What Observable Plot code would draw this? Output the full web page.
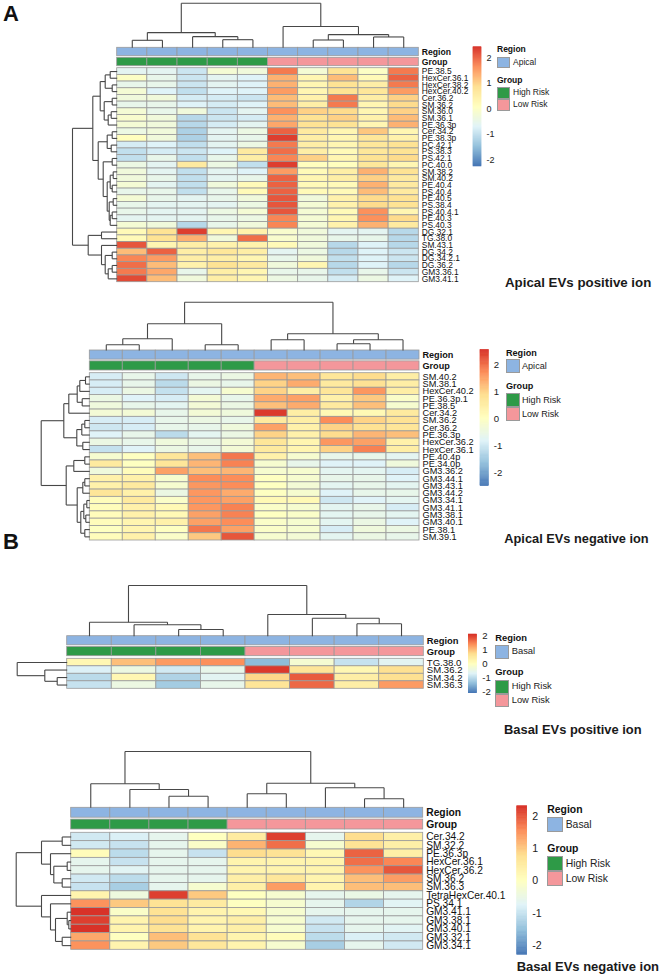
<!DOCTYPE html>
<html><head><meta charset="utf-8">
<script src="https://cdn.jsdelivr.net/npm/d3@7"></script>
<script src="https://cdn.jsdelivr.net/npm/@observablehq/plot@0.6"></script>
<style>
body{margin:0;background:#fff;font-family:"Liberation Sans",Arial,sans-serif}
#page{position:relative;width:660px;height:980px;overflow:hidden;background:#fff}
#page svg{position:absolute;left:0;top:0}
.t{position:absolute;white-space:nowrap;color:#111}
.sw{position:absolute;box-sizing:border-box;border:1px solid #9a9a9a}
</style></head><body><div id="page"></div>
<script>
// ---------------- DATA ----------------
const legendTicks = [-2, -1, 0, 1, 2];

// Panel A – Apical EVs positive ion
const a1Rows = ["PE.38.5","HexCer.36.1","HexCer.38.2","HexCer.40.2","Cer.36.2","SM.36.2","SM.36.0","SM.36.1","PE.36.3p","Cer.34.2","PE.38.3p","PC.42.1","PS.38.3","PS.42.1","PC.40.0","SM.38.2","SM.40.2","PE.40.4","PS.40.4","PE.40.5","PS.38.4","PS.40.4.1","PE.40.3","PS.40.3","DG.32.1","TG.38.0","SM.43.1","DG.34.2","DG.34.2.1","DG.36.2","GM3.36.1","GM3.41.1"];
const a1Groups = ["High Risk","High Risk","High Risk","High Risk","High Risk","Low Risk","Low Risk","Low Risk","Low Risk","Low Risk"];
const a1Region = "Apical";
const a1Range = [-2.25, 2.42];
const a1Values = [
 [-0.6,-0.6,-0.9,-0.2,-0.3,1.8,-0.2,0.8,0.0,1.8],
 [0.0,-0.5,-0.9,-0.6,-0.7,1.3,0.3,1.2,0.2,2.0],
 [-0.5,-0.5,-0.9,-0.6,-0.7,1.3,0.3,0.8,0.5,1.8],
 [-0.2,-0.7,-1.0,-0.7,-0.7,1.5,0.3,0.8,0.7,1.5],
 [-0.3,-0.3,-0.8,-0.8,-0.9,1.2,0.4,1.8,0.5,1.0],
 [-0.5,-0.5,-0.7,-0.8,-0.7,1.2,0.5,1.8,0.3,0.9],
 [-0.2,-0.5,-0.3,-0.9,-0.6,1.6,1.0,0.9,0.3,1.0],
 [-0.1,-0.3,-1.1,-0.9,-0.8,1.3,0.8,1.0,0.4,1.2],
 [-0.2,-0.3,-1.1,-0.8,-0.6,1.4,0.8,0.8,0.3,1.3],
 [-0.4,-0.3,-1.2,-0.6,-0.4,2.0,0.6,0.3,1.1,0.3],
 [0.1,-0.3,-1.2,-0.6,-0.5,2.3,0.5,0.3,0.7,0.4],
 [-0.8,-0.7,-1.0,-0.6,-0.4,1.8,0.5,0.3,0.7,0.8],
 [-1.0,-0.8,-0.9,-0.7,0.6,1.9,0.5,0.2,0.7,0.8],
 [-1.0,-0.5,-1.0,-0.5,0.5,1.7,1.0,0.3,0.8,0.9],
 [-0.4,-0.6,0.6,-0.4,-1.0,2.3,0.1,0.1,0.7,0.3],
 [-0.3,-0.6,-1.0,-0.6,-0.7,1.5,0.2,0.5,1.3,0.8],
 [-0.3,-0.5,-1.0,-0.6,-0.5,2.0,0.3,0.5,1.0,0.6],
 [-0.2,-0.6,-1.0,-0.3,0.2,2.0,0.2,0.2,1.3,0.6],
 [-0.5,-0.5,-1.0,-0.5,0.2,2.0,0.2,0.2,1.2,0.6],
 [-0.2,-0.5,-0.6,-0.5,-0.3,2.1,-0.3,0.4,0.9,0.8],
 [-0.5,-0.6,-0.6,-0.6,-0.4,2.1,-0.2,0.4,0.9,0.8],
 [-0.5,-0.6,-0.6,-0.4,-0.2,2.1,-0.2,0.2,1.6,0.3],
 [-0.6,-0.6,-0.6,-0.5,-0.4,1.7,-0.2,0.3,1.6,0.9],
 [-0.2,-0.3,-1.1,-0.5,-0.3,1.7,-0.2,0.4,1.3,0.6],
 [0.2,0.8,2.3,0.3,0.4,-0.1,-0.3,-0.6,-0.6,-1.1],
 [0.2,0.8,1.3,-0.3,1.9,-0.1,-0.3,-0.5,-0.5,-1.1],
 [2.1,0.3,0.5,0.4,0.4,0.2,-0.3,-1.1,-0.7,-1.1],
 [1.2,2.0,0.5,0.7,0.5,-0.6,-0.4,-1.1,-0.7,-0.9],
 [1.7,1.5,0.5,0.5,0.3,-0.5,-0.3,-1.0,-0.7,-0.9],
 [1.9,1.2,0.4,0.8,0.6,-0.3,0.3,-1.1,-0.7,-1.1],
 [1.8,1.4,-0.5,0.5,0.3,-0.5,-0.5,-1.0,-0.5,-0.9],
 [2.2,1.2,-0.3,0.5,0.3,-0.4,-0.5,-0.8,-0.4,-0.7]
];
// hclust-style merges: [a, b, height]; negative = leaf (1-based), positive = earlier merge
const a1ColMerge = [[-1,-2,7.4],[-4,-5,8],[-3,2,11],[1,3,15],[-7,-8,7.7],[-9,-10,10.7],[5,6,13],[-6,7,21],[4,8,44]];
const a1RowMerge = [[-1,-2,7],[-3,-4,5],[1,2,12],[-5,-6,5],[-7,-8,6],[5,-9,9],[4,6,13],[3,7,17],[-10,-11,5],[-12,-13,6],[9,10,10],[-14,-15,5],[-16,-17,4],[-18,-19,5],[-20,-21,4],[-22,-23,5],[16,-24,7],[13,14,7],[15,17,8],[18,19,10],[12,20,14],[11,21,19],[8,22,24.4],[-25,-26,15.7],[-28,-29,5],[-30,-31,5],[26,-32,9],[25,27,12],[-27,28,15.7],[24,29,29],[23,30,44.7]];

// Panel A – Apical EVs negative ion
const a2Rows = ["SM.40.2","SM.38.1","HexCer.40.2","PE.36.3p.1","PE.38.5","Cer.34.2","SM.36.2","Cer.36.2","PE.36.3p","HexCer.36.2","HexCer.36.1","PE.40.4p","PE.34.0p","GM3.36.2","GM3.44.1","GM3.43.1","GM3.44.2","GM3.34.1","GM3.41.1","GM3.38.1","GM3.40.1","PE.38.1","SM.39.1"];
const a2Groups = ["High Risk","High Risk","High Risk","High Risk","High Risk","Low Risk","Low Risk","Low Risk","Low Risk","Low Risk"];
const a2Region = "Apical";
const a2Range = [-2.48, 2.54];
const a2Values = [
 [-0.9,-0.6,-1.0,-0.6,-0.5,1.3,1.2,0.7,0.9,0.5],
 [-0.9,-0.6,-1.2,-0.5,-0.6,1.0,1.4,0.6,0.8,0.5],
 [-0.9,-0.5,-1.1,-0.7,-0.2,1.0,0.5,0.7,1.6,0.5],
 [-0.5,-0.8,-0.9,-0.3,-0.6,1.4,1.5,0.4,1.1,-0.1],
 [-0.4,-0.6,-0.7,-0.3,-0.5,1.2,1.4,0.6,1.2,-0.2],
 [-0.3,-0.3,-0.6,-0.3,-0.4,2.45,0.5,0.2,0.2,0.6],
 [-0.9,-0.9,-0.6,-0.5,-0.6,0.6,0.5,1.7,1.0,0.8],
 [-1.0,-0.9,-0.6,-0.6,-0.4,1.5,0.4,1.0,0.8,0.7],
 [-0.8,-0.6,-1.2,-0.7,-0.5,1.0,0.4,0.9,1.3,1.2],
 [-0.5,-0.6,-0.4,-0.5,-0.3,0.7,0.3,1.6,1.5,0.4],
 [-1.1,-0.8,-0.5,-0.6,-0.3,0.6,0.3,1.0,1.8,0.5],
 [-0.2,0.0,0.7,1.2,1.9,0.4,-0.2,-0.6,-0.6,-0.7],
 [0.6,0.0,0.7,1.3,1.8,-0.2,-0.6,-0.8,-0.8,-0.4],
 [-0.4,0.1,1.5,1.2,1.3,-0.2,-0.2,-0.7,-0.7,-0.9],
 [0.4,0.4,-0.2,1.7,1.7,0.0,-0.2,-0.6,-0.6,-0.8],
 [0.4,0.6,-0.2,1.6,1.7,0.0,-0.3,-0.7,-0.6,-0.7],
 [0.7,0.4,-0.5,1.6,1.4,0.0,-0.2,-0.8,-0.6,-0.6],
 [0.1,0.6,-0.1,1.6,1.5,0.2,0.2,-1.0,-0.8,-0.7],
 [0.1,0.4,0.2,1.6,1.8,-0.1,-0.2,-0.7,-0.6,-0.9],
 [0.1,0.4,0.2,1.5,1.8,0.0,-0.1,-0.7,-0.6,-0.7],
 [0.1,0.3,0.4,1.5,1.7,-0.1,-0.2,-0.7,-0.5,-0.8],
 [0.0,0.3,0.0,1.9,1.5,-0.1,-0.2,-0.9,-0.4,-0.5],
 [0.1,0.4,-0.1,1.1,2.2,-0.2,-0.3,-0.7,-0.5,-0.6]
];
const a2ColMerge = [[-1,-2,5.7],[1,-3,11.7],[-4,-5,5.7],[2,3,26.7],[-6,-7,10.7],[-8,-9,6.7],[6,-10,10.7],[5,7,16.7],[4,8,48.3]];
const a2RowMerge = [[-1,-2,4.3],[1,-3,10],[-4,-5,7.6],[2,3,12.6],[4,-6,21],[-7,-8,5],[6,-9,8],[-10,-11,7],[7,8,13],[5,9,26],[-12,-13,5],[11,-14,16],[-15,-16,5],[13,-17,7],[-18,-19,3],[-20,-21,4],[15,16,6],[-22,-23,5],[17,18,9],[14,19,12.6],[12,20,23.6],[10,21,48.6]];

// Panel B – Basal EVs positive ion
const b1Rows = ["TG.38.0","SM.36.2","SM.34.2","SM.36.3"];
const b1Groups = ["High Risk","High Risk","High Risk","High Risk","Low Risk","Low Risk","Low Risk","Low Risk"];
const b1Region = "Basal";
const b1Range = [-2.07, 2.12];
const b1Values = [
 [0.2,1.0,1.3,1.4,-1.4,-0.2,-0.9,-0.6],
 [-0.7,-0.4,-0.8,-0.5,2.05,0.6,0.2,0.7],
 [-1.0,0.2,-1.1,-0.6,0.8,1.8,0.4,0.7],
 [-0.9,-0.4,-1.2,-0.5,0.6,1.7,0.4,1.3]
];
const b1ColMerge = [[-3,-4,6.7],[-2,1,11.4],[-1,2,14],[-7,-8,12.4],[-6,4,18],[-5,5,21.7],[3,6,50.7]];
const b1RowMerge = [[-3,-4,10],[-2,1,22.4],[-1,2,50]];

// Panel B – Basal EVs negative ion
const b2Rows = ["Cer.34.2","SM.32.2","PE.36.3p","HexCer.36.1","HexCer.36.2","SM.36.2","SM.36.3","TetraHexCer.40.1","PS.34.1","GM3.41.1","GM3.38.1","GM3.40.1","GM3.32.1","GM3.34.1"];
const b2Groups = ["High Risk","High Risk","High Risk","High Risk","Low Risk","Low Risk","Low Risk","Low Risk","Low Risk"];
const b2Region = "Basal";
const b2Range = [-2.29, 2.32];
const b2Values = [
 [-0.9,-0.8,-0.6,0.0,0.5,2.2,-0.6,0.8,0.4],
 [-0.9,-1.0,-0.6,-0.1,1.2,1.8,-0.2,0.7,0.4],
 [0.1,-1.1,-0.6,-1.0,0.8,0.7,0.2,1.9,0.4],
 [-0.6,-1.0,-0.6,-0.6,0.3,0.3,0.3,1.8,1.6],
 [-0.6,-0.7,-0.6,-0.6,0.3,0.3,0.3,1.5,2.0],
 [-0.9,-1.1,-0.6,-0.6,0.4,0.6,0.3,1.1,1.4],
 [-1.0,-1.3,-0.6,-0.2,0.4,1.4,0.3,1.1,1.1],
 [0.3,-0.4,2.2,1.0,0.0,-0.2,-0.6,-0.5,-0.6],
 [1.5,1.0,0.7,0.5,0.0,-0.2,-0.6,-1.2,-0.7],
 [2.3,-0.1,0.7,0.3,0.2,-0.2,-0.6,-0.6,-0.6],
 [2.2,0.3,0.8,0.3,0.4,-0.2,-0.9,-0.6,-0.6],
 [2.3,0.3,0.7,0.3,0.4,-0.2,-1.0,-0.6,-0.7],
 [1.3,0.0,1.1,0.7,0.3,0.1,-1.1,-0.8,-0.9],
 [1.5,0.3,1.0,0.6,0.3,-0.2,-1.3,-0.6,-0.9]
];
const b2ColMerge = [[-3,-4,11.6],[-2,1,18.3],[-1,2,24],[-5,-6,14],[-8,-9,9],[-7,5,20],[4,6,24.6],[3,7,56.3]];
const b2RowMerge = [[-1,-2,9],[-4,-5,4],[-6,-7,9],[2,3,17.4],[-3,4,20.7],[1,5,29.7],[-11,-12,2.4],[-10,7,4],[-13,-14,9],[8,9,15.7],[-9,10,20.7],[-8,11,29.7],[6,12,55]];

const titles = ["Apical EVs positive ion","Apical EVs negative ion","Basal EVs positive ion","Basal EVs negative ion"];

// ---------------- STYLE / LAYOUT ----------------
const heatPalette = ["#4575B4","#91BFDB","#E0F3F8","#FFFFBF","#FEE090","#FC8D59","#D73027"];
const annColors = {Apical:"#8DB4E2", Basal:"#8DB4E2", "High Risk":"#2E9A47", "Low Risk":"#F4979B"};
const gridStroke = "#9a9a9a";
const treeStroke = "#474747";
const FONT = "'Liberation Sans', Arial, sans-serif";

const layouts = [
 {hx:[116.7,418.3], hy:[67.7,281.7], ann:[47.3,65.7], colTop:2.7, rowLeft:72, rowFont:8.4, annFont:8.6,
  bar:{x:[473,481], y:[46.7,166]}, tickFont:9,
  leg:{x:497, regY:50, sw:13.3, sh:11.8, s1:56.7, grpY:81, s2:87.3, tx:513, font:8.5},
  title:{x:505, y:282.3, size:13.3}},
 {hx:[89.3,419], hy:[372.7,540], ann:[350,370], colTop:301.7, rowLeft:40.7, rowFont:9.2, annFont:9.1,
  bar:{x:[480,488.3], y:[349.3,485.7]}, tickFont:9.6,
  leg:{x:506, regY:353, sw:14, sh:13.7, s1:359, grpY:386.7, s2:393.3, tx:522, font:9.1},
  title:{x:504.3, y:539, size:12.8}},
 {hx:[66.7,423.3], hy:[658.3,688.3], ann:[635.7,655.7], colTop:585, rowLeft:16.7, rowFont:9.6, annFont:9.4,
  bar:{x:[468.3,476.7], y:[634,692.7]}, tickFont:9.6,
  leg:{x:495.3, regY:638.3, sw:14, sh:13.5, s1:645, grpY:672.7, s2:680, tx:511.7, font:9.4},
  title:{x:504, y:730, size:12.9}},
 {hx:[70.7,422.7], hy:[832.3,949.3], ann:[807.3,829], colTop:751, rowLeft:15.7, rowFont:10.2, annFont:10.3,
  bar:{x:[516.7,526.7], y:[805.7,954.3]}, tickFont:10.6,
  leg:{x:547.3, regY:810, sw:15.4, sh:15.2, s1:817.3, grpY:849.3, s2:856, tx:565.7, font:10.4},
  title:{x:516.7, y:968, size:13}}
];

const panels = [
 {rows:a1Rows, values:a1Values, groups:a1Groups, region:a1Region, range:a1Range, colMerge:a1ColMerge, rowMerge:a1RowMerge},
 {rows:a2Rows, values:a2Values, groups:a2Groups, region:a2Region, range:a2Range, colMerge:a2ColMerge, rowMerge:a2RowMerge},
 {rows:b1Rows, values:b1Values, groups:b1Groups, region:b1Region, range:b1Range, colMerge:b1ColMerge, rowMerge:b1RowMerge},
 {rows:b2Rows, values:b2Values, groups:b2Groups, region:b2Region, range:b2Range, colMerge:b2ColMerge, rowMerge:b2RowMerge}
];

// ---------------- RENDER ----------------
const page = document.getElementById("page");
const W = 660, H = 980;

function colorScale(range) {
  const [lo, hi] = range;
  return {type:"linear", domain: d3.range(7).map(i => lo + i * (hi - lo) / 6), range: heatPalette, interpolate:"rgb", clamp:true};
}

function dendroSegs(merges) {
  const pos = [], hgt = [], segs = [];
  const get = k => k < 0 ? {p: -k - 1 + 0.5, h: 0} : {p: pos[k - 1], h: hgt[k - 1]};
  merges.forEach(([a, b, h], i) => {
    const A = get(a), B = get(b);
    segs.push({p1:A.p, h1:A.h, p2:A.p, h2:h});
    segs.push({p1:B.p, h1:B.h, p2:B.p, h2:h});
    segs.push({p1:A.p, h1:h, p2:B.p, h2:h});
    pos[i] = (A.p + B.p) / 2; hgt[i] = h;
  });
  return {segs, maxH: d3.max(hgt)};
}

function add(svg) { page.appendChild(svg); }
const baseStyle = {background:"transparent", fontFamily: FONT, overflow:"visible"};

function addText(str, x, yc, size, opts = {}) {
  const d = document.createElement("div");
  d.className = "t";
  d.textContent = str;
  d.style.left = x + "px";
  d.style.top = (yc - size * 0.58) + "px";
  d.style.fontSize = size + "px";
  d.style.lineHeight = (size * 1.15) + "px";
  d.style.fontFamily = FONT;
  if (opts.bold) d.style.fontWeight = "bold";
  if (opts.color) d.style.color = opts.color;
  page.appendChild(d);
}
function addSwatch(x, y, w, h, color) {
  const d = document.createElement("div");
  d.className = "sw";
  Object.assign(d.style, {left:x + "px", top:y + "px", width:w + "px", height:h + "px", background:color});
  page.appendChild(d);
}

panels.forEach((P, pi) => {
  const L = layouts[pi];
  const nc = P.groups.length, nr = P.rows.length;
  const cols = d3.range(nc);

  // heatmap cells + row labels
  const cells = [];
  P.values.forEach((row, r) => row.forEach((v, c) => cells.push({row: P.rows[r], col: c, value: v})));
  add(Plot.plot({
    width: W, height: H, marginLeft: 0, marginTop: 0, marginBottom: 0, marginRight: W - L.hx[1],
    style: baseStyle,
    x: {type:"band", domain: cols, range: L.hx, padding: 0, round: false, axis: null},
    y: {type:"band", domain: P.rows, range: L.hy, padding: 0, round: false},
    color: colorScale(P.range),
    marks: [
      Plot.cell(cells, {x:"col", y:"row", fill:"value", stroke: gridStroke, strokeWidth: 0.8}),
      Plot.axisY({anchor:"right", tickSize: 0, tickPadding: 3, fontSize: L.rowFont, label: null, fill:"#111"})
    ]
  }));

  // annotation tracks
  const ann = [];
  cols.forEach(c => {
    ann.push({col: c, track: "Region", v: P.region});
    ann.push({col: c, track: "Group", v: P.groups[c]});
  });
  add(Plot.plot({
    width: W, height: H, marginLeft: 0, marginTop: 0, marginBottom: 0, marginRight: W - L.hx[1],
    style: baseStyle,
    x: {type:"band", domain: cols, range: L.hx, padding: 0, round: false, axis: null},
    y: {type:"band", domain: ["Region","Group"], range: L.ann, paddingInner: 0.16, paddingOuter: 0, round: false},
    color: {type:"ordinal", domain: [P.region, "High Risk", "Low Risk"], range: [annColors[P.region], annColors["High Risk"], annColors["Low Risk"]]},
    marks: [
      Plot.cell(ann, {x:"col", y:"track", fill:"v", stroke: gridStroke, strokeWidth: 0.8}),
      Plot.axisY({anchor:"right", tickSize: 0, tickPadding: 3, fontSize: L.annFont, fontWeight:"bold", label: null, fill:"#111"})
    ]
  }));

  // column dendrogram
  const cd = dendroSegs(P.colMerge);
  add(Plot.plot({
    width: W, height: H, margin: 0, style: baseStyle,
    x: {domain:[0, nc], range: L.hx, axis: null},
    y: {domain:[0, cd.maxH], range:[L.ann[0], L.colTop], axis: null},
    marks: [Plot.link(cd.segs, {x1:"p1", y1:"h1", x2:"p2", y2:"h2", stroke: treeStroke, strokeWidth: 1.1})]
  }));

  // row dendrogram
  const rd = dendroSegs(P.rowMerge);
  add(Plot.plot({
    width: W, height: H, margin: 0, style: baseStyle,
    x: {domain:[0, rd.maxH], range:[L.hx[0], L.rowLeft], axis: null},
    y: {domain:[0, nr], range: L.hy, axis: null},
    marks: [Plot.link(rd.segs, {x1:"h1", y1:"p1", x2:"h2", y2:"p2", stroke: treeStroke, strokeWidth: 1.1})]
  }));

  // colour bar legend
  const [lo, hi] = P.range, nb = 120;
  const steps = d3.range(nb).map(i => ({a: lo + i * (hi - lo) / nb, b: lo + (i + 1) * (hi - lo) / nb, v: lo + (i + 0.5) * (hi - lo) / nb}));
  add(Plot.plot({
    width: W, height: H, marginLeft: 0, marginTop: 0, marginBottom: 0, marginRight: W - L.bar.x[1],
    style: baseStyle,
    x: {domain:[0, 1], range: L.bar.x, axis: null},
    y: {domain: P.range, range: [L.bar.y[1], L.bar.y[0]]},
    color: colorScale(P.range),
    marks: [
      Plot.rect(steps, {x1: 0, x2: 1, y1:"a", y2:"b", fill:"v", stroke:"v", strokeWidth: 0.6}),
      Plot.axisY({anchor:"right", ticks: legendTicks, tickSize: 0, tickPadding: 5, tickFormat: d => String(d), fontSize: L.tickFont, label: null, fill:"#222"})
    ]
  }));

  // Region / Group legend
  const G = L.leg, f = G.font;
  addText("Region", G.x, G.regY, f, {bold: true});
  addSwatch(G.x, G.s1, G.sw, G.sh, annColors[P.region]);
  addText(P.region, G.tx, G.s1 + G.sh / 2, f, {color:"#222"});
  addText("Group", G.x, G.grpY, f, {bold: true});
  addSwatch(G.x, G.s2, G.sw, G.sh, annColors["High Risk"]);
  addText("High Risk", G.tx, G.s2 + G.sh / 2, f, {color:"#222"});
  addSwatch(G.x, G.s2 + G.sh, G.sw, G.sh, annColors["Low Risk"]);
  addText("Low Risk", G.tx, G.s2 + G.sh * 1.5, f, {color:"#222"});

  // panel caption
  addText(titles[pi], L.title.x, L.title.y, L.title.size, {bold: true, color:"#1a1a1a"});
});

// panel letters
addText("A", 3, 14, 22, {bold: true});
addText("B", 3, 542, 22, {bold: true});
</script></body></html>
